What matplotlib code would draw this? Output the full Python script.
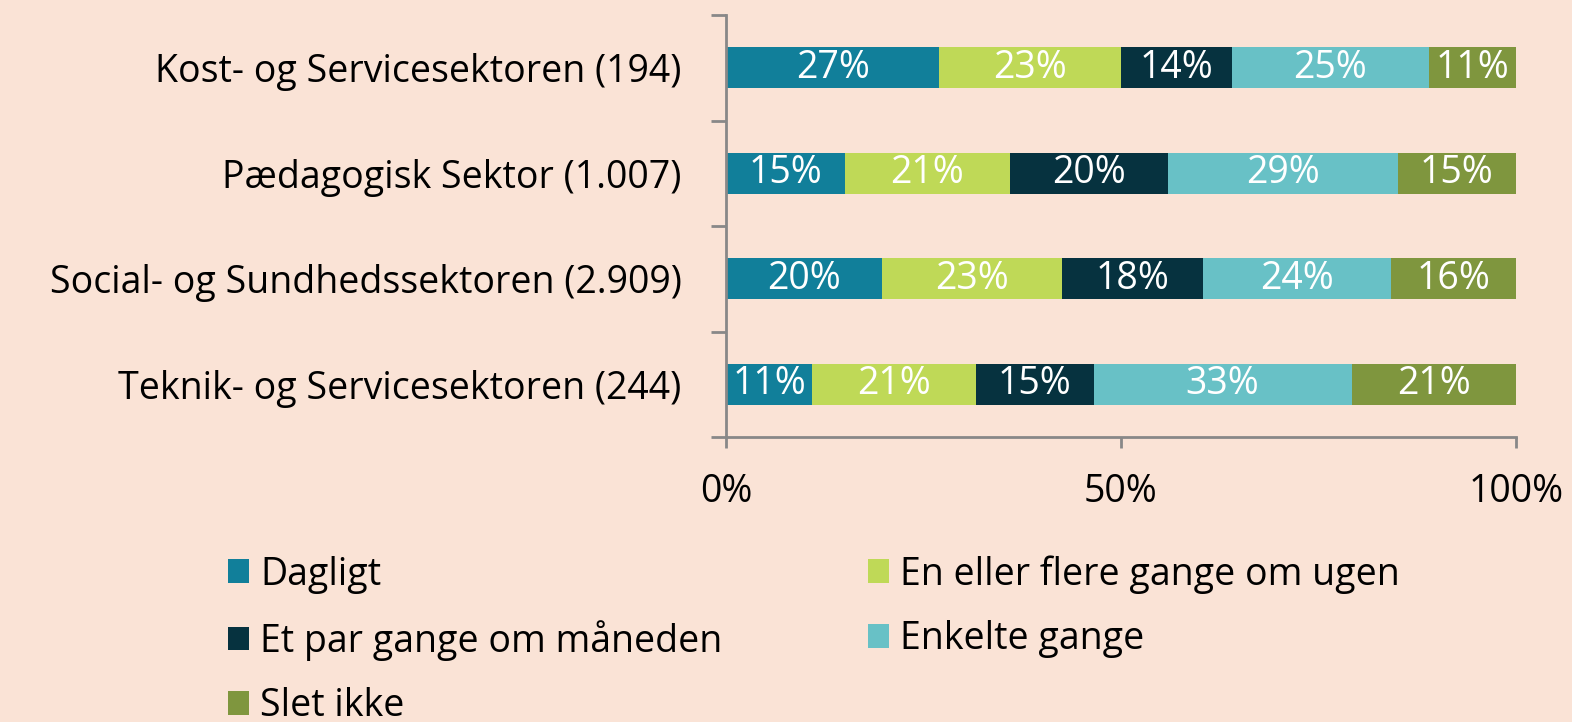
import matplotlib
matplotlib.use("Agg")
import matplotlib.pyplot as plt
import numpy as np

plt.rcParams['font.family'] = ['Open Sans', 'DejaVu Sans']

categories = ["Kost- og Servicesektoren (194)", "Pædagogisk Sektor (1.007)",
              "Social- og Sundhedssektoren (2.909)", "Teknik- og Servicesektoren (244)"]
series_names = ["Dagligt", "En eller flere gange om ugen", "Et par gange om måneden",
                "Enkelte gange", "Slet ikke"]
values = {
    "Dagligt": [27, 15, 20, 11],
    "En eller flere gange om ugen": [23, 21, 23, 21],
    "Et par gange om måneden": [14, 20, 18, 15],
    "Enkelte gange": [25, 29, 24, 33],
    "Slet ikke": [11, 15, 16, 21],
}
colors = ["#117F9A", "#BFD957", "#06323F", "#68C1C6", "#7F963E"]
xtick_vals = [0, 50, 100]
xtick_labels = ["0%", "50%", "100%"]

FS = 27
bg = "#FAE3D6"
W, H = 1572, 722
fig = plt.figure(figsize=(W / 100, H / 100), dpi=100, facecolor=bg)
ax = fig.add_axes([726 / W, 1 - 437 / H, (1516 - 726) / W, (437 - 15) / H])
ax.set_facecolor(bg)

data = np.array([values[s] for s in series_names], dtype=float)
totals = data.sum(axis=0)
pct = data / totals * 100
y = np.arange(len(categories))
left = np.zeros(len(categories))
handles = []
for i, name in enumerate(series_names):
    b = ax.barh(y, pct[i], left=left, height=0.39, color=colors[i], label=name,
                edgecolor='none')
    handles.append(b)
    for j in range(len(categories)):
        ax.text(left[j] + pct[i][j] / 2, y[j], f"{int(data[i][j])}%", ha='center',
                va='center', color='white', fontsize=FS)
    left += pct[i]

ax.set_xlim(0, 100)
ax.set_ylim(len(categories) - 0.5, -0.5)
ax.set_yticks(y)
ax.set_yticklabels(categories, fontsize=FS)
ax.tick_params(axis='y', which='major', length=0, pad=32)
ax.set_yticks(np.arange(len(categories) + 1) - 0.5, minor=True)
ax.tick_params(axis='y', which='minor', length=11, width=2, color='#888888', direction='out')
ax.set_xticks(xtick_vals)
ax.set_xticklabels(xtick_labels, fontsize=FS)
ax.tick_params(axis='x', which='major', length=8, width=2, color='#888888', pad=18)
for s in ['top', 'right']:
    ax.spines[s].set_visible(False)
for s in ['left', 'bottom']:
    ax.spines[s].set_color('#888888')
    ax.spines[s].set_linewidth(2)

order = [0, 2, 4, 1, 3]
leg = fig.legend([handles[k] for k in order], [series_names[k] for k in order],
                 ncol=2, loc='upper left', bbox_to_anchor=(228 / W, 1 - 555 / H),
                 frameon=False, fontsize=FS, handlelength=0.55, handleheight=0.6,
                 handletextpad=0.3, columnspacing=3.9, labelspacing=0.7,
                 borderaxespad=0, borderpad=0)

fig.savefig("out.png", dpi=100, facecolor=bg)
